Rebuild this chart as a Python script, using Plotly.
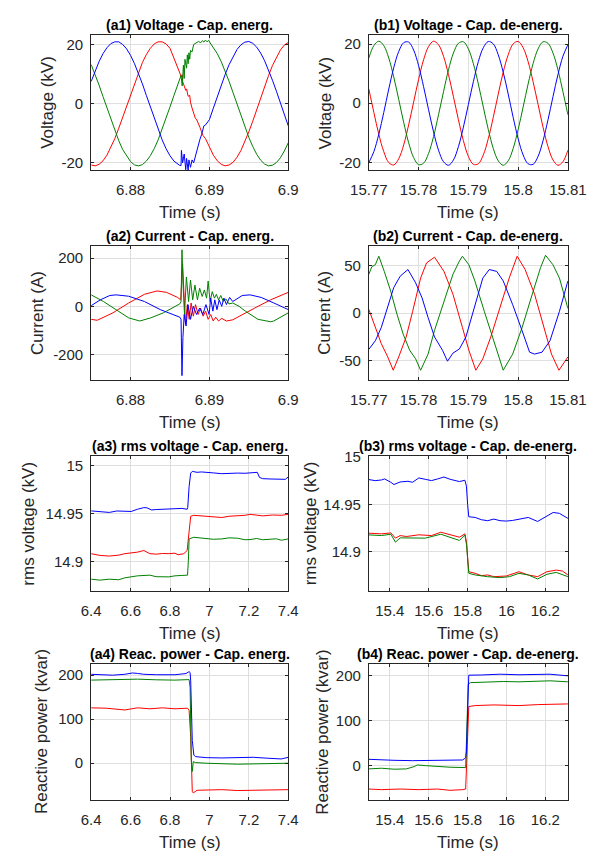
import plotly.graph_objects as go

W, H = 605, 853
BLUE, RED, GREEN = '#0000ff', '#ff0000', '#008000'
FONT = 'Liberation Sans, Arial, Helvetica, sans-serif'
INK = '#262626'
GRID = '#dfdfdf'

# ---------------- data ----------------
# (a1) phase voltages, kV, time in ms after 6.875 s
a1_ms_blue = [0, 0.5, 1, 1.5, 2, 2.5, 3, 3.5, 4, 4.5, 5, 5.5, 6, 6.5, 7, 7.5, 8, 8.5, 9, 9.5, 10, 10.5, 11,
              11.2, 11.4, 11.45, 11.6, 11.8, 12.0, 12.1, 12.3, 12.4, 12.6, 12.8, 13.0, 13.2, 13.5, 13.8, 14.0,
              14.3, 14.5, 14.7, 15, 15.5, 16, 16.5, 17, 17.5, 18, 18.5, 19, 19.5, 20, 20.5, 21, 21.5, 22, 22.5,
              23, 23.5, 24, 24.5, 25]
a1_blue = [7.5, 11.1, 14.2, 16.9, 18.9, 20.3, 20.9, 20.9, 20.0, 18.5, 16.3, 13.5, 10.3, 6.7, 2.8, -1.1, -5.0,
           -8.7, -12.2, -15.2, -17.6, -19.4, -20.6,
           -20.8, -20.9, -15.8, -20.0, -17.0, -22.3, -18.5, -22.5, -19.0, -21.5, -19.0, -20.0, -18.0, -14.5,
           -12.0, -10.5, -7.5, -7.2, -6.5,
           -5.4, -1.5, 2.4, 6.3, 9.9, 13.2, 16.0, 18.3, 19.9, 20.8, 21.0, 20.4, 19.1, 17.1, 14.5, 11.4, 7.9,
           4.2, 0.2, -3.7, -7.5]
a1_ms_red = [0, 0.5, 1, 1.5, 2, 2.5, 3, 3.5, 4, 4.5, 5, 5.5, 6, 6.5, 7, 7.5, 8, 8.5, 9, 9.5, 10,
             10.5, 11.0, 11.3, 11.4, 11.55, 11.6, 11.8, 12.0, 12.1, 12.3, 12.5, 12.6, 12.8, 13.0, 13.2, 13.4,
             13.6, 13.8, 14.0, 14.2,
             14.5, 15, 15.5, 16, 16.5, 17, 17.5, 18, 18.5, 19, 19.5, 20, 20.5, 21, 21.5, 22, 22.5, 23, 23.5,
             24, 24.5, 25]
a1_red = [-20.7, -21.0, -20.5, -19.3, -17.4, -14.8, -11.8, -8.3, -4.6, -0.7, 3.3, 7.1, 10.7, 13.9, 16.6,
          18.7, 20.2, 20.9, 20.9, 20.2, 18.7,
          15.5, 12.5, 10.0, 9.0, 9.8, 7.5, 6.0, 4.5, 5.0, 2.5, 2.8, 0.5, -1.5, -3.0, -4.8, -5.5, -6.5, -8.0,
          -9.5, -10.8,
          -11.8, -14.8, -17.4, -19.3, -20.5, -21.0, -20.7, -19.8, -18.1, -15.8, -12.9, -9.5, -5.9, -2.0, 2.0,
          5.9, 9.5, 12.9, 15.8, 18.1, 19.8, 20.7]
a1_ms_green = [0, 0.5, 1, 1.5, 2, 2.5, 3, 3.5, 4, 4.5, 5, 5.5, 6, 6.5, 7, 7.5, 8, 8.5, 9, 9.5, 10, 10.5,
               11.0, 11.3, 11.4, 11.55, 11.7, 11.8, 11.9, 12.1, 12.2, 12.3, 12.4, 12.5, 12.6, 12.8, 13.0,
               13.3, 13.6, 13.9, 14.1, 14.3, 14.5, 14.7, 14.9, 15.1,
               15.5, 16, 16.5, 17, 17.5, 18, 18.5, 19, 19.5, 20, 20.5, 21, 21.5, 22, 22.5, 23, 23.5, 24,
               24.5, 25]
a1_green = [13.2, 9.9, 6.3, 2.4, -1.5, -5.4, -9.1, -12.5, -15.5, -17.8, -19.6, -20.7, -21.0, -20.6, -19.4,
            -17.6, -15.2, -12.2, -8.7, -5.0, -1.1, 2.8,
            6.5, 9.0, 9.5, 6.0, 13.0, 8.5, 15.0, 12.0, 16.5, 13.5, 17.2, 15.0, 18.0, 17.5, 20.0, 20.5, 21.0,
            20.6, 21.3, 20.8, 21.5, 20.9, 21.4, 20.5,
            18.9, 16.9, 14.2, 11.1, 7.5, 3.7, -0.2, -4.2, -7.9, -11.4, -14.5, -17.1, -19.1, -20.4, -21.0,
            -20.8, -19.9, -18.3, -16.0, -13.2]

# (b1) phase voltages, kV, one sample per ms after 15.77 s
b1_ms = list(range(41))
b1_green = [15.3, 19.5, 21.0, 19.5, 15.3, 8.9, 1.3, -6.5, -13.4, -18.4, -20.8, -20.3, -17.0, -11.3, -3.9,
            3.9, 11.3, 17.0, 20.3, 20.8, 18.4, 13.4, 6.5, -1.3, -8.9, -15.3, -19.5, -21.0, -19.5, -15.3,
            -8.9, -1.3, 6.5, 13.4, 18.4, 20.8, 20.3, 17.0, 11.3, 3.9, -3.9]
b1_blue = [-20.1, -16.4, -10.5, -3.1, 4.8, 12.0, 17.5, 20.5, 20.7, 18.0, 12.7, 5.6, -2.2, -9.7, -15.9,
           -19.8, -21.0, -19.2, -14.7, -8.1, -0.4, 7.3, 14.1, 18.8, 20.9, 20.1, 16.4, 10.5, 3.1, -4.8,
           -12.0, -17.5, -20.5, -20.7, -18.0, -12.7, -5.6, 2.2, 9.7, 15.9, 19.8]
b1_red = [4.8, -3.1, -10.5, -16.4, -20.1, -20.9, -18.8, -14.1, -7.3, 0.4, 8.1, 14.7, 19.2, 21.0, 19.8,
          15.9, 9.7, 2.2, -5.6, -12.7, -18.0, -20.7, -20.5, -17.5, -12.0, -4.8, 3.1, 10.5, 16.4, 20.1,
          20.9, 18.8, 14.1, 7.3, -0.4, -8.1, -14.7, -19.2, -21.0, -19.8, -15.9]

# (a2) phase currents, A, time in ms after 6.875 s
a2_ms_blue = [0, 1.16, 2.36, 3.16, 4.76, 6.76, 8.76, 10.36, 11.24, 11.40, 11.52, 11.64, 11.80, 12.04, 12.28,
              12.60, 12.96, 13.36, 13.76, 14.16, 14.56, 14.96, 15.16, 15.44, 15.68, 15.96, 16.24, 16.56,
              16.84, 17.16, 17.56, 17.96, 18.56, 19.16, 20.16, 21.56, 23.16, 25.0]
a2_blue = [2.7, 27, 45, 47.6, 42, 20, -13.6, -34, -45, -54, -288, -129, -34, -82, 7, -54, 0, -34, -7, -34,
           7, -34, 34, -20, 27, -14, 27, 0, 34, 7, 37, 20, 31, 45, 47.6, 37, 14, -13.6]
a2_ms_green = [0, 1.56, 3.16, 4.76, 6.16, 7.56, 9.16, 10.76, 11.24, 11.40, 11.52, 11.64, 11.84, 12.08,
               12.36, 12.60, 12.88, 13.16, 13.48, 13.76, 14.08, 14.36, 14.64, 14.84, 15.08, 15.36, 15.64,
               15.88, 16.16, 16.44, 16.76, 17.08, 17.48, 17.96, 18.76, 19.56, 21.16, 22.76, 23.16, 25.0]
a2_green = [47.6, 20, -14, -48, -61, -48, -27, 0, 10, 20, 235, 102, -34, 122, 20, 109, 27, 88, 27, 75,
            41, 68, 34, 105, 20, 61, 34, 50, 27, 45, 20, 31, 10, 14, 0, -20, -54, -64, -61, -27]
a2_ms_red = [0, 0.76, 2.76, 4.76, 6.76, 8.36, 9.56, 10.96, 11.36, 11.60, 11.76, 11.96, 12.20, 12.44, 12.68,
             12.96, 13.24, 13.56, 13.88, 14.20, 14.52, 14.84, 15.16, 15.48, 15.80, 16.16, 16.56, 17.16,
             17.96, 18.76, 20.76, 22.76, 25.0]
a2_red = [-54, -58, -27, 14, 50, 64, 58, 37, 27, 177, 61, -75, 7, -54, 14, -41, 7, -34, -7, -41, -20, -54,
          -34, -61, -45, -61, -50, -61, -56, -41, -7, 27, 58]

# (b2) phase currents, A, time in ms after 15.77 s
b2_ms_green = [0, 0.6, 1.3, 2.0, 3.1, 4.4, 5.65, 6.9, 8.2, 9.4, 10.4, 11.9, 13.2, 15.1, 16.9, 18.2, 18.8,
               20.1, 21.3, 23.2, 25.1, 26.4, 27.0, 28.9, 30.8, 32.6, 34.5, 35.5, 37.0, 38.3, 40.0]
b2_green = [41, 49, 51, 60, 44, 23, -1, -22, -39, -48, -60, -43, -18, 13, 41, 55, 60, 51, 34, 2, -29, -50,
            -60, -43, -15, 16, 48, 61, 51, 37, 5]
b2_ms_red = [0, 1.3, 2.5, 3.8, 4.9, 6.0, 7.5, 8.8, 10.4, 11.6, 13.2, 15.1, 16.9, 18.8, 20.1, 21.5, 22.9,
             24.5, 26.4, 28.2, 29.8, 31.4, 33.3, 35.2, 36.7, 38.2, 39.2, 40.0]
b2_red = [4, -15, -32, -46, -60, -46, -25, 2, 37, 53, 59, 44, 20, -15, -39, -60, -48, -25, 6, 37, 60, 46,
          20, -15, -43, -60, -52, -46]
b2_ms_blue = [0, 1.3, 2.5, 3.8, 5.0, 6.3, 7.2, 7.85, 9.4, 10.7, 11.9, 13.2, 14.8, 15.8, 16.9, 18.2, 19.5,
              21.3, 22.9, 24.2, 25.7, 27.0, 28.9, 30.8, 32.3, 33.3, 34.8, 36.4, 38.3, 40.0]
b2_blue = [-38, -29, -15, 6, 27, 39, 42.5, 46, 32, 16, -4.5, -25, -39, -50.5, -42, -37.6, -25, 9, 37, 46,
           44, 34, 9, -18.5, -41, -43, -41, -29, 2, 34]

# (a3) rms voltages, kV
a3_t_blue = [6.400, 6.444, 6.492, 6.530, 6.556, 6.575, 6.603, 6.635, 6.667, 6.683, 6.706, 6.730, 6.762,
             6.794, 6.825, 6.860, 6.887, 6.890, 6.897, 6.905, 6.913, 6.925, 6.937, 6.960, 6.984, 7.020,
             7.063, 7.100, 7.143, 7.180, 7.222, 7.243, 7.254, 7.270, 7.302, 7.330, 7.365, 7.385, 7.400]
a3_blue = [14.9526, 14.9516, 14.9510, 14.9525, 14.9526, 14.9522, 14.9520, 14.9543, 14.9560, 14.9558,
           14.9536, 14.9540, 14.9543, 14.9550, 14.9550, 14.9552, 14.9543, 14.9560, 14.9780, 14.9920,
           14.9938, 14.9935, 14.9928, 14.9932, 14.9925, 14.9922, 14.9914, 14.9920, 14.9920, 14.9918,
           14.9921, 14.9928, 14.9875, 14.9862, 14.9859, 14.9856, 14.9850, 14.9855, 14.9880]
a3_t_red = [6.400, 6.444, 6.492, 6.540, 6.571, 6.603, 6.635, 6.667, 6.698, 6.730, 6.762, 6.794, 6.825,
            6.841, 6.870, 6.887, 6.895, 6.905, 6.921, 6.950, 6.984, 7.020, 7.063, 7.100, 7.143, 7.180,
            7.206, 7.240, 7.270, 7.320, 7.365, 7.400]
a3_red = [14.9080, 14.9062, 14.9055, 14.9065, 14.9080, 14.9085, 14.9096, 14.9113, 14.9080, 14.9075,
          14.9082, 14.9080, 14.9085, 14.9069, 14.9080, 14.9113, 14.9300, 14.9470, 14.9480, 14.9475,
          14.9464, 14.9460, 14.9457, 14.9470, 14.9474, 14.9480, 14.9490, 14.9485, 14.9474, 14.9483,
          14.9480, 14.9490]
a3_t_green = [6.400, 6.444, 6.492, 6.540, 6.571, 6.603, 6.635, 6.698, 6.730, 6.794, 6.825, 6.860, 6.889,
              6.893, 6.897, 6.921, 6.960, 6.984, 7.020, 7.063, 7.100, 7.143, 7.180, 7.206, 7.240, 7.270,
              7.302, 7.340, 7.365, 7.400]
a3_green = [14.8814, 14.8804, 14.8814, 14.8808, 14.8828, 14.8838, 14.8849, 14.8856, 14.8840, 14.8838,
            14.8849, 14.8853, 14.8856, 14.9000, 14.9234, 14.9251, 14.9245, 14.9241, 14.9230, 14.9234,
            14.9245, 14.9241, 14.9225, 14.9227, 14.9238, 14.9225, 14.9227, 14.9235, 14.9220, 14.9234]

# (b3) rms voltages, kV
b3_t_blue = [15.292, 15.325, 15.357, 15.373, 15.405, 15.421, 15.453, 15.493, 15.517, 15.549, 15.582,
             15.614, 15.646, 15.678, 15.710, 15.758, 15.786, 15.794, 15.800, 15.806, 15.839, 15.871,
             15.903, 15.935, 15.967, 15.999, 16.030, 16.064, 16.112, 16.160, 16.208, 16.240, 16.272, 16.316]
b3_blue = [14.9759, 14.9748, 14.9755, 14.9766, 14.9731, 14.9707, 14.9734, 14.9741, 14.9731, 14.9776,
           14.9762, 14.9748, 14.9766, 14.9786, 14.9762, 14.9738, 14.9752, 14.9690, 14.9500, 14.9369,
           14.9362, 14.9338, 14.9328, 14.9345, 14.9328, 14.9324, 14.9330, 14.9345, 14.9362, 14.9320,
           14.9379, 14.9414, 14.9405, 14.9352]
b3_t_red = [15.292, 15.357, 15.405, 15.429, 15.453, 15.485, 15.549, 15.614, 15.662, 15.710, 15.758, 15.786,
            15.794, 15.800, 15.806, 15.839, 15.871, 15.903, 15.935, 15.999, 16.064, 16.112, 16.160, 16.208,
            16.256, 16.288, 16.316]
b3_red = [14.9197, 14.9190, 14.9200, 14.9145, 14.9172, 14.9162, 14.9180, 14.9172, 14.9207, 14.9180,
          14.9155, 14.9190, 14.9103, 14.8950, 14.8793, 14.8776, 14.8752, 14.8759, 14.8741, 14.8748,
          14.8793, 14.8759, 14.8741, 14.8793, 14.8810, 14.8800, 14.8759]
b3_t_green = [15.292, 15.357, 15.405, 15.429, 15.453, 15.501, 15.582, 15.662, 15.710, 15.758, 15.786,
              15.795, 15.800, 15.806, 15.839, 15.903, 15.967, 16.015, 16.064, 16.112, 16.160, 16.208,
              16.256, 16.316]
b3_green = [14.9179, 14.9172, 14.9186, 14.9103, 14.9148, 14.9145, 14.9145, 14.9186, 14.9155, 14.9121,
            14.9179, 14.9069, 14.8930, 14.8776, 14.8759, 14.8741, 14.8731, 14.8741, 14.8776, 14.8759,
            14.8717, 14.8766, 14.8786, 14.8741]

# (a4) reactive power, kvar
a4_t_blue = [6.400, 6.460, 6.508, 6.571, 6.610, 6.635, 6.667, 6.730, 6.790, 6.825, 6.881, 6.897, 6.902,
             6.905, 6.913, 6.921, 6.929, 6.984, 7.063, 7.143, 7.222, 7.302, 7.365, 7.400]
a4_blue = [202, 201, 200, 202, 205, 204, 202, 201, 201.5, 201, 203.7, 208, 206, 187, 52, 18.7, 15, 12.7,
           12, 12.7, 13.5, 11.2, 9.7, 13.5]
a4_t_green = [6.400, 6.508, 6.635, 6.730, 6.825, 6.897, 6.902, 6.908, 6.913, 6.918, 6.929, 6.984, 7.063,
              7.143, 7.222, 7.302, 7.400]
a4_green = [188.8, 189.5, 191, 189.5, 188.8, 190, 172, 7.5, -18.7, 3.7, 1.5, 0, -1.5, -2.2, -1.5, -0.7, 0]
a4_t_red = [6.400, 6.476, 6.571, 6.635, 6.698, 6.762, 6.825, 6.889, 6.897, 6.905, 6.913, 6.918, 6.937,
            6.984, 7.063, 7.143, 7.222, 7.302, 7.400]
a4_red = [125.8, 125, 121, 125.8, 123.6, 125.8, 123.6, 125, 120, 60, -63.7, -67.4, -61.4, -61.4, -60, -62,
          -61.4, -60, -60]

# (b4) reactive power, kvar
b4_t_blue = [15.292, 15.357, 15.421, 15.517, 15.614, 15.710, 15.774, 15.786, 15.790, 15.794, 15.802,
             15.806, 15.871, 15.967, 16.064, 16.160, 16.224, 16.316]
b4_blue = [14.7, 13.2, 12.5, 11.7, 12.5, 13.2, 13.2, 16.8, 19, 31.5, 174, 201.5, 202, 203.7, 202.5, 203.7,
           203.7, 200]
b4_t_green = [15.292, 15.357, 15.421, 15.485, 15.525, 15.541, 15.582, 15.646, 15.710, 15.790, 15.798,
              15.803, 15.815, 15.903, 15.983, 16.064, 16.160, 16.224, 16.316]
b4_green = [-6.6, -5.1, -7.3, -6.6, -1.5, 2.2, 0.7, -1.5, -2.9, -3.7, 101, 181.7, 185, 186.8, 187.5, 186.8,
            187.5, 189, 186.8]
b4_t_red = [15.292, 15.357, 15.453, 15.549, 15.646, 15.710, 15.774, 15.790, 15.795, 15.802, 15.806,
            15.839, 15.935, 16.064, 16.160, 16.316]
b4_red = [-51.3, -52.7, -51.3, -52.7, -51.3, -54.2, -52.7, -51.3, 5.9, 101, 131.9, 134, 135.5, 134, 136.2,
          137.7]

# tick labels
ticks_a_fast = [6.88, 6.89, 6.9]
ticks_b_fast = [15.77, 15.78, 15.79, 15.8, 15.81]
ticks_a_slow = [6.4, 6.6, 6.8, 7, 7.2, 7.4]
ticks_b_slow = [15.4, 15.6, 15.8, 16, 16.2]
labels_a_fast = ['6.88', '6.89', '6.9']
labels_b_fast = ['15.77', '15.78', '15.79', '15.8', '15.81']
labels_a_slow = ['6.4', '6.6', '6.8', '7', '7.2', '7.4']
labels_b_slow = ['15.4', '15.6', '15.8', '16', '16.2']


def ms(t0, offsets):
    return [t0 + m / 1000.0 for m in offsets]


# ---------------- panels ----------------
# columns / rows of the plot boxes, in pixels of the 605x853 page
COL_X = [(77, 287.3), (373.3, 585.7)]
ROW_Y = [(27.3, 164), (240.7, 375.7), (452.7, 589.3), (663.3, 800)]

panels = [
    dict(title='(a1) Voltage - Cap. energ.', ylabel='Voltage (kV)', yshift=-44,
         xr=[6.875, 6.9], xt=(ticks_a_fast, labels_a_fast),
         yr=[-22.5, 23.2], yt=([-20, 0, 20], ['-20', '0', '20']), shape='linear',
         lines=[(ms(6.875, a1_ms_red), a1_red, RED), (ms(6.875, a1_ms_green), a1_green, GREEN),
                (ms(6.875, a1_ms_blue), a1_blue, BLUE)]),
    dict(title='(b1) Voltage - Cap. de-energ.', ylabel='Voltage (kV)', yshift=-43,
         xr=[15.77, 15.81], xt=(ticks_b_fast, labels_b_fast),
         yr=[-22.7, 23.1], yt=([-20, 0, 20], ['-20', '0', '20']), shape='spline',
         lines=[(ms(15.77, b1_ms), b1_red, RED), (ms(15.77, b1_ms), b1_green, GREEN),
                (ms(15.77, b1_ms), b1_blue, BLUE)]),
    dict(title='(a2) Current - Cap. energ.', ylabel='Current (A)', yshift=-53,
         xr=[6.875, 6.9], xt=(ticks_a_fast, labels_a_fast),
         yr=[-305, 250], yt=([-200, 0, 200], ['-200', '0', '200']), shape='linear',
         lines=[(ms(6.875, a2_ms_red), a2_red, RED), (ms(6.875, a2_ms_green), a2_green, GREEN),
                (ms(6.875, a2_ms_blue), a2_blue, BLUE)]),
    dict(title='(b2) Current - Cap. de-energ.', ylabel='Current (A)', yshift=-44,
         xr=[15.77, 15.81], xt=(ticks_b_fast, labels_b_fast),
         yr=[-70, 70.6], yt=([-50, 0, 50], ['-50', '0', '50']), shape='linear',
         lines=[(ms(15.77, b2_ms_red), b2_red, RED), (ms(15.77, b2_ms_green), b2_green, GREEN),
                (ms(15.77, b2_ms_blue), b2_blue, BLUE)]),
    dict(title='(a3) rms voltage - Cap. energ.', ylabel='rms voltage (kV)', yshift=-63,
         xr=[6.4, 7.4], xt=(ticks_a_slow, labels_a_slow),
         yr=[14.869, 15.0099], yt=([14.9, 14.95, 15], ['14.9', '14.95', '15']), shape='linear',
         lines=[(a3_t_red, a3_red, RED), (a3_t_green, a3_green, GREEN), (a3_t_blue, a3_blue, BLUE)]),
    dict(title='(b3) rms voltage - Cap. de-energ.', ylabel='rms voltage (kV)', yshift=-58,
         xr=[15.292, 16.316], xt=(ticks_b_slow, labels_b_slow),
         yr=[14.859, 15.0007], yt=([14.9, 14.95, 15], ['14.9', '14.95', '15']), shape='linear',
         lines=[(b3_t_red, b3_red, RED), (b3_t_green, b3_green, GREEN), (b3_t_blue, b3_blue, BLUE)]),
    dict(title='(a4) Reac. power - Cap. energ.', ylabel='Reactive power (kvar)', yshift=-49,
         xr=[6.4, 7.4], xt=(ticks_a_slow, labels_a_slow),
         yr=[-82.5, 224.7], yt=([0, 100, 200], ['0', '100', '200']), shape='linear',
         lines=[(a4_t_red, a4_red, RED), (a4_t_green, a4_green, GREEN), (a4_t_blue, a4_blue, BLUE)]),
    dict(title='(b4) Reac. power - Cap. de-energ.', ylabel='Reactive power (kvar)', yshift=-46,
         xr=[15.292, 16.316], xt=(ticks_b_slow, labels_b_slow),
         yr=[-74.7, 225.7], yt=([0, 100, 200], ['0', '100', '200']), shape='linear',
         lines=[(b4_t_red, b4_red, RED), (b4_t_green, b4_green, GREEN), (b4_t_blue, b4_blue, BLUE)]),
]

fig = go.Figure()
layout = dict(width=W, height=H, margin=dict(l=0, r=0, t=0, b=0), showlegend=False,
              paper_bgcolor='white', plot_bgcolor='white', annotations=[])

for i, p in enumerate(panels):
    n = i + 1
    row, col = i // 2, i % 2
    x0, x1 = COL_X[col]
    y0, y1 = ROW_Y[row]
    xdom = [x0 / W, x1 / W]
    ydom = [1 - y1 / H, 1 - y0 / H]
    sfx = '' if n == 1 else str(n)

    for t, v, c in p['lines']:
        fig.add_trace(go.Scatter(x=t, y=v, mode='lines', line=dict(color=c, width=1, shape=p['shape']),
                                 xaxis='x' + sfx, yaxis='y' + sfx, hoverinfo='skip'))

    common = dict(ticks='inside', ticklen=3, tickcolor=INK, showline=True, linecolor=INK, linewidth=1,
                  mirror='ticks', showgrid=True, gridcolor=GRID, gridwidth=1, zeroline=False,
                  tickfont=dict(family=FONT, size=15, color=INK))
    layout['xaxis' + sfx] = dict(common, domain=xdom, range=p['xr'], anchor='y' + sfx,
                                 tickmode='array', tickvals=p['xt'][0], ticktext=p['xt'][1],
                                 ticklabelstandoff=6)
    layout['yaxis' + sfx] = dict(common, domain=ydom, range=p['yr'], anchor='x' + sfx,
                                 tickmode='array', tickvals=p['yt'][0], ticktext=p['yt'][1],
                                 ticklabelstandoff=4)

    xc = (xdom[0] + xdom[1]) / 2
    layout['annotations'] += [
        dict(text='<b>' + p['title'] + '</b>', xref='paper', yref='paper', x=xc, y=ydom[1],
             xanchor='center', yanchor='middle', yshift=10, showarrow=False,
             font=dict(family=FONT, size=14, color='black')),
        dict(text='Time (s)', xref='paper', yref='paper', x=xc, y=ydom[0],
             xanchor='center', yanchor='middle', yshift=-42.5, showarrow=False,
             font=dict(family=FONT, size=17, color=INK)),
        dict(text=p['ylabel'], xref='paper', yref='paper', x=xdom[0], y=(ydom[0] + ydom[1]) / 2,
             xanchor='center', yanchor='middle', xshift=p['yshift'], textangle=-90, showarrow=False,
             font=dict(family=FONT, size=17, color=INK)),
    ]

fig.update_layout(layout)
fig.write_html('out.html', config={'displayModeBar': False},
               post_script="document.body.style.margin='0';")
